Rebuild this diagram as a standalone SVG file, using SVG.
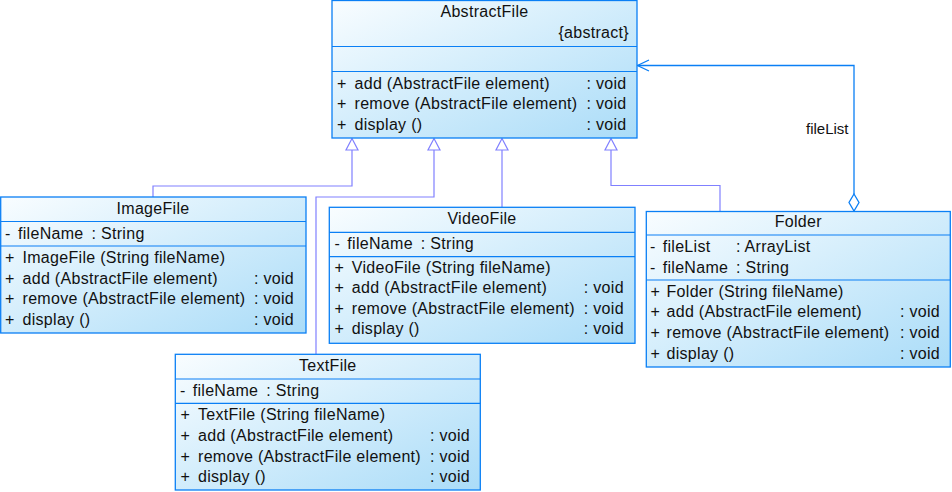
<svg xmlns="http://www.w3.org/2000/svg" width="952" height="492" viewBox="0 0 952 492">
<defs>
<linearGradient id="g" x1="0" y1="0" x2="1" y2="1">
<stop offset="0" stop-color="#f9fdff"/>
<stop offset="1" stop-color="#aadcf8"/>
</linearGradient>
<style>
.box{fill:url(#g);stroke:#0a7ff5;stroke-width:1.3}
.sep{stroke:#0a7ff5;stroke-width:1.2}
text{font-family:"Liberation Sans",Arial,sans-serif;font-size:16px;fill:#111;letter-spacing:0.3px}
.c{text-anchor:middle}
.r{text-anchor:end}
.gen{fill:none;stroke:#8080ff;stroke-width:1.2}
.tri{fill:#ffffff;stroke:#8080ff;stroke-width:1.2}
.agg{fill:none;stroke:#0a7ff5;stroke-width:1.3}
.dia{fill:#ffffff;stroke:#0a7ff5;stroke-width:1.3}
.lbl{letter-spacing:0;font-size:15px}
</style>
</defs>
<rect width="952" height="492" fill="#ffffff"/>

<g id="connectors">
<path class="gen" d="M153,197 V186 H352 V150"/>
<path class="gen" d="M316,354 V197 H434 V150"/>
<path class="gen" d="M502,207 V150"/>
<path class="gen" d="M720,211 V185.5 H611 V150"/>
<path class="tri" d="M352,138.5 L358,150 L346,150 Z"/>
<path class="tri" d="M434,138.5 L440,150 L428,150 Z"/>
<path class="tri" d="M502,138.5 L508,150 L496,150 Z"/>
<path class="tri" d="M611,138.5 L617,150 L605,150 Z"/>
<path class="agg" d="M854,194 V65.5 H637.5"/>
<path class="agg" d="M649,60 L637.5,65.5 L649,71"/>
<path class="dia" d="M854,194 L859,202.5 L854,211 L849,202.5 Z"/>
<text class="lbl" x="806" y="134">fileList</text>
</g>

<g id="AbstractFile">
<rect class="box" x="332" y="0.5" width="305" height="137.5"/>
<line class="sep" x1="332" y1="46.5" x2="637" y2="46.5"/>
<line class="sep" x1="332" y1="71.5" x2="637" y2="71.5"/>
<text class="c" x="484.5" y="17">AbstractFile</text>
<text class="r" x="629" y="38">{abstract}</text>
<text x="337" y="88.5">+</text><text x="354.5" y="88.5">add (AbstractFile element)</text><text x="586.5" y="88.5">: void</text>
<text x="337" y="109">+</text><text x="354.5" y="109">remove (AbstractFile element)</text><text x="586.5" y="109">: void</text>
<text x="337" y="129.5">+</text><text x="354.5" y="129.5">display ()</text><text x="586.5" y="129.5">: void</text>
</g>

<g id="ImageFile">
<rect class="box" x="0.7" y="197" width="305.3" height="136"/>
<line class="sep" x1="0.7" y1="221.5" x2="306" y2="221.5"/>
<line class="sep" x1="0.7" y1="246" x2="306" y2="246"/>
<text class="c" x="153" y="214">ImageFile</text>
<text x="5" y="239">-</text><text x="18" y="239">fileName</text><text x="91.5" y="239">: String</text>
<text x="5" y="263">+</text><text x="22.5" y="263">ImageFile (String fileName)</text>
<text x="5" y="283.5">+</text><text x="22.5" y="283.5">add (AbstractFile element)</text><text x="254" y="283.5">: void</text>
<text x="5" y="304">+</text><text x="22.5" y="304">remove (AbstractFile element)</text><text x="254" y="304">: void</text>
<text x="5" y="325">+</text><text x="22.5" y="325">display ()</text><text x="254" y="325">: void</text>
</g>

<g id="VideoFile">
<rect class="box" x="329.3" y="207.3" width="305.7" height="136"/>
<line class="sep" x1="329.3" y1="232.3" x2="635" y2="232.3"/>
<line class="sep" x1="329.3" y1="256.7" x2="635" y2="256.7"/>
<text class="c" x="482" y="224">VideoFile</text>
<text x="334.5" y="248.7">-</text><text x="347.3" y="248.7">fileName</text><text x="420.8" y="248.7">: String</text>
<text x="334.5" y="272.7">+</text><text x="351.8" y="272.7">VideoFile (String fileName)</text>
<text x="334.5" y="293.3">+</text><text x="351.8" y="293.3">add (AbstractFile element)</text><text x="583.8" y="293.3">: void</text>
<text x="334.5" y="314">+</text><text x="351.8" y="314">remove (AbstractFile element)</text><text x="583.8" y="314">: void</text>
<text x="334.5" y="334.3">+</text><text x="351.8" y="334.3">display ()</text><text x="583.8" y="334.3">: void</text>
</g>

<g id="Folder">
<rect class="box" x="646.3" y="211.5" width="304" height="155.5"/>
<line class="sep" x1="646.3" y1="235" x2="950.3" y2="235"/>
<line class="sep" x1="646.3" y1="280" x2="950.3" y2="280"/>
<text class="c" x="798.3" y="226.7">Folder</text>
<text x="650" y="251.7">-</text><text x="662.7" y="251.7">fileList</text><text x="736" y="251.7">: ArrayList</text>
<text x="650" y="272.7">-</text><text x="662.7" y="272.7">fileName</text><text x="736" y="272.7">: String</text>
<text x="650.5" y="296.7">+</text><text x="666.5" y="296.7">Folder (String fileName)</text>
<text x="650.5" y="317.3">+</text><text x="666.5" y="317.3">add (AbstractFile element)</text><text x="900" y="317.3">: void</text>
<text x="650.5" y="338.3">+</text><text x="666.5" y="338.3">remove (AbstractFile element)</text><text x="900" y="338.3">: void</text>
<text x="650.5" y="359">+</text><text x="666.5" y="359">display ()</text><text x="900" y="359">: void</text>
</g>

<g id="TextFile">
<rect class="box" x="175.3" y="354.3" width="305" height="135.7"/>
<line class="sep" x1="175.3" y1="379" x2="480.3" y2="379"/>
<line class="sep" x1="175.3" y1="403.3" x2="480.3" y2="403.3"/>
<text class="c" x="327.8" y="371">TextFile</text>
<text x="180" y="395.7">-</text><text x="192.7" y="395.7">fileName</text><text x="266.3" y="395.7">: String</text>
<text x="180.5" y="420">+</text><text x="198" y="420">TextFile (String fileName)</text>
<text x="180.5" y="440.7">+</text><text x="198" y="440.7">add (AbstractFile element)</text><text x="430" y="440.7">: void</text>
<text x="180.5" y="461.7">+</text><text x="198" y="461.7">remove (AbstractFile element)</text><text x="430" y="461.7">: void</text>
<text x="180.5" y="481.7">+</text><text x="198" y="481.7">display ()</text><text x="430" y="481.7">: void</text>
</g>
</svg>
